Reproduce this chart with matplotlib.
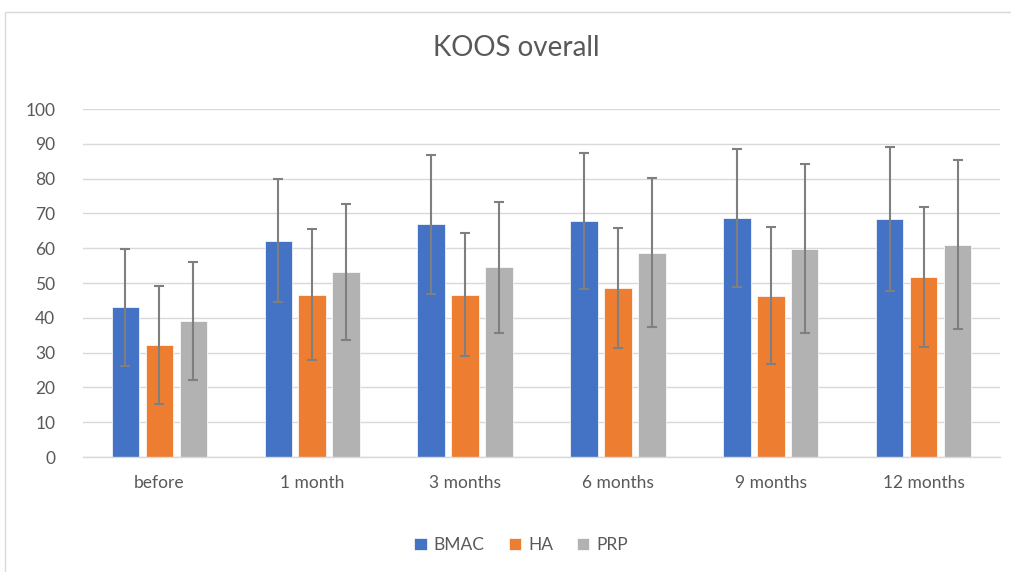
import matplotlib
matplotlib.use("Agg")
import matplotlib.pyplot as plt
import numpy as np
from matplotlib.patches import Rectangle

categories = ["before", "1 month", "3 months", "6 months", "9 months", "12 months"]
series_names = ["BMAC", "HA", "PRP"]
bmac = [43.0, 62.2, 66.9, 67.9, 68.7, 68.4]
ha = [32.2, 46.6, 46.6, 48.5, 46.4, 51.7]
prp = [39.1, 53.2, 54.5, 58.7, 59.9, 61.0]
bmac_err = [16.8, 17.6, 20.0, 19.6, 19.8, 20.7]
ha_err = [16.9, 18.8, 17.7, 17.2, 19.6, 20.2]
prp_err = [17.0, 19.5, 18.9, 21.4, 24.4, 24.3]
colors = ["#4472C4", "#ED7D31", "#B2B2B2"]

plt.rcParams['font.family'] = ['Lato', 'DejaVu Sans']
text_color = "#595959"

fig = plt.figure(figsize=(10.12, 5.72), dpi=100)
fig.patches.append(Rectangle((5/1012, -0.1), 1.2, 1 - 12/572 + 0.1, transform=fig.transFigure,
                             fill=False, edgecolor="#D9D9D9", linewidth=1.0))
ax = fig.add_axes([83/1012, 1 - 457/572, (1000 - 83)/1012, (457 - 109)/572])

x = np.arange(len(categories))
width = 0.18
offset = 0.222
vals = [bmac, ha, prp]
errs = [bmac_err, ha_err, prp_err]
for i, (v, e, c, n) in enumerate(zip(vals, errs, colors, series_names)):
    ax.bar(x + (i - 1) * offset, v, width, color=c, label=n, edgecolor="white",
           linewidth=0.5, zorder=2)
    ax.errorbar(x + (i - 1) * offset, v, yerr=e, fmt='none', ecolor="#7F7F7F",
                elinewidth=1.5, capsize=3.6, capthick=1.5, zorder=3)

ax.set_xlim(-0.5, 5.5)
ax.set_ylim(0, 100)
ax.set_yticks(np.arange(0, 101, 10))
ax.set_xticks(x)
ax.set_xticklabels(categories)
ax.grid(axis='y', color="#D9D9D9", linewidth=1.0, zorder=0)
ax.set_axisbelow(True)
for s in ["top", "right", "left"]:
    ax.spines[s].set_visible(False)
ax.spines["bottom"].set_color("#D9D9D9")
ax.spines["bottom"].set_linewidth(1.0)
ax.tick_params(axis='y', length=0, labelsize=12.5, colors=text_color, pad=20)
ax.tick_params(axis='x', length=0, labelsize=12.5, colors=text_color, pad=13)

fig.text(0.51, 1 - 48/572, "KOOS overall", ha='center', va='center', fontsize=20, color=text_color)

handles, labels = ax.get_legend_handles_labels()
leg = fig.legend(handles, labels, loc='center', bbox_to_anchor=(0.515, 1 - 545/572), ncol=3,
                 frameon=False, fontsize=12.5, handlelength=0.7, handleheight=0.7,
                 columnspacing=1.4, handletextpad=0.4)
for t in leg.get_texts():
    t.set_color(text_color)

fig.savefig("out.png", dpi=100)
